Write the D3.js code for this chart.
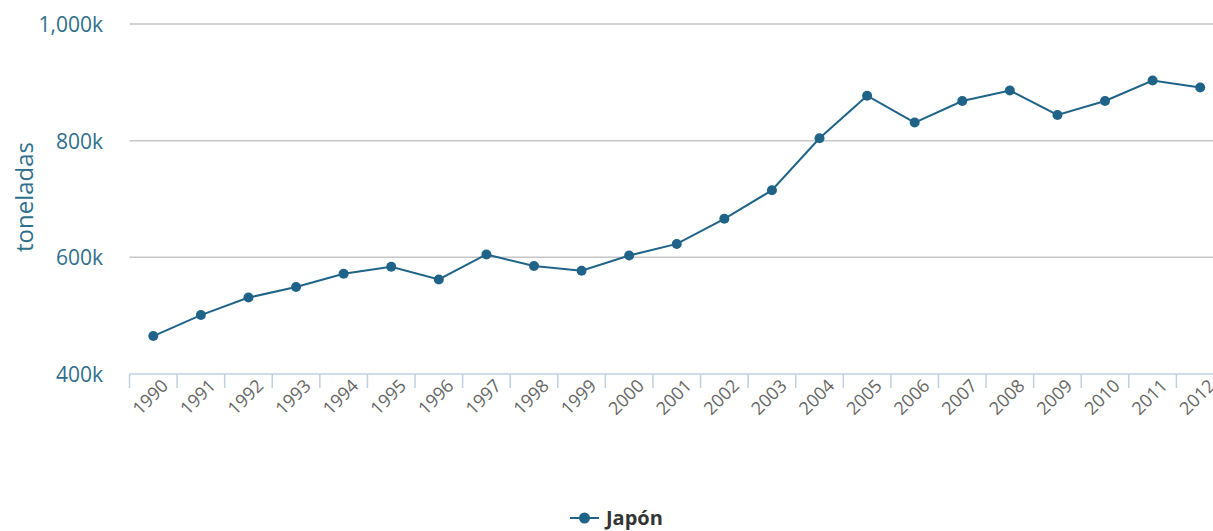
<!DOCTYPE html>
<html>
<head>
<meta charset="utf-8">
<script src="https://cdn.jsdelivr.net/npm/d3@7"></script>
<style>
  html, body { margin: 0; padding: 0; background: #fff; overflow: hidden; }
  svg { display: block; }
  text { font-family: "Open Sans", "DejaVu Sans", sans-serif; }
</style>
</head>
<body>
<svg id="chart" width="1213" height="531"></svg>
<script>
// Japan – yearly totals (thousand tonnes)
const years = ["1990","1991","1992","1993","1994","1995","1996","1997","1998","1999","2000",
               "2001","2002","2003","2004","2005","2006","2007","2008","2009","2010","2011","2012"];
const japon = [465, 501, 531, 549, 572, 584, 562, 605, 585, 577, 603,
               623, 666, 715, 804, 877, 831, 868, 886, 844, 868, 903, 891];
const yTicks = [400, 600, 800, 1000];
const seriesName = "Japón";
const yTitle = "toneladas";

const svg = d3.select("#chart");
const plotLeft = 129.5, plotRight = 1224, plotTop = 24, plotBottom = 374;

const x = d3.scaleBand().domain(years).range([plotLeft, plotRight]).paddingInner(0).paddingOuter(0);
const y = d3.scaleLinear().domain([400, 1000]).range([plotBottom, plotTop]);

const lineColor = "#1f6488";
const labelColor = "#2f6f8c";

// horizontal grid
svg.append("g")
  .selectAll("line")
  .data(yTicks.filter(d => d > 400))
  .join("line")
  .attr("x1", plotLeft).attr("x2", 1213)
  .attr("y1", d => y(d)).attr("y2", d => y(d))
  .attr("stroke", "#c6c6c6").attr("stroke-width", 1.5);

// y axis labels
const yAxis = d3.axisLeft(y).tickValues(yTicks).tickSize(0).tickPadding(0)
  .tickFormat(d => d3.format(",")(d) + "k");
const gy = svg.append("g").attr("transform", `translate(103,0)`).call(yAxis);
gy.select(".domain").remove();
gy.selectAll("text")
  .attr("fill", labelColor)
  .attr("font-size", 21)
  .attr("dy", "0.35em");

// y axis title
svg.append("text")
  .attr("transform", `translate(33,197) rotate(-90)`)
  .attr("text-anchor", "middle")
  .attr("fill", labelColor)
  .attr("font-size", 24)
  .text(yTitle);

// x axis
const xAxis = d3.axisBottom(x).tickSize(0).tickFormat(d => d);
const gx = svg.append("g").attr("transform", `translate(0,${plotBottom})`).call(xAxis);
gx.select(".domain").remove();
gx.selectAll(".tick text")
  .attr("fill", "#666")
  .attr("font-size", 18)
  .attr("text-anchor", "end")
  .attr("dy", null)
  .attr("y", 0)
  .attr("transform", "translate(16,13) rotate(-45)");

// axis line and tick separators between categories
svg.append("line")
  .attr("x1", plotLeft).attr("x2", 1213)
  .attr("y1", plotBottom).attr("y2", plotBottom)
  .attr("stroke", "#c0d0e0").attr("stroke-width", 1.5);
svg.append("g")
  .selectAll("line")
  .data(years)
  .join("line")
  .attr("x1", d => x(d)).attr("x2", d => x(d))
  .attr("y1", plotBottom).attr("y2", plotBottom + 14)
  .attr("stroke", "#c0d0e0").attr("stroke-width", 1.5);

// series line
const cx = d => x(d) + x.bandwidth() / 2;
const line = d3.line().x((d, i) => cx(years[i])).y(d => y(d));
svg.append("path")
  .datum(japon)
  .attr("d", line)
  .attr("fill", "none")
  .attr("stroke", lineColor)
  .attr("stroke-width", 2);

svg.append("g")
  .selectAll("circle")
  .data(japon)
  .join("circle")
  .attr("cx", (d, i) => cx(years[i]))
  .attr("cy", d => y(d))
  .attr("r", 5)
  .attr("fill", lineColor);

// legend
const lg = svg.append("g").attr("transform", "translate(570,518)");
lg.append("line").attr("x1", 0).attr("x2", 29).attr("y1", 0).attr("y2", 0)
  .attr("stroke", lineColor).attr("stroke-width", 2);
lg.append("circle").attr("cx", 14.5).attr("cy", 0).attr("r", 5.5).attr("fill", lineColor);
lg.append("text").attr("x", 36).attr("y", 7)
  .attr("font-size", 20).attr("font-weight", "bold").attr("fill", "#333")
  .text(seriesName);
</script>
</body>
</html>
